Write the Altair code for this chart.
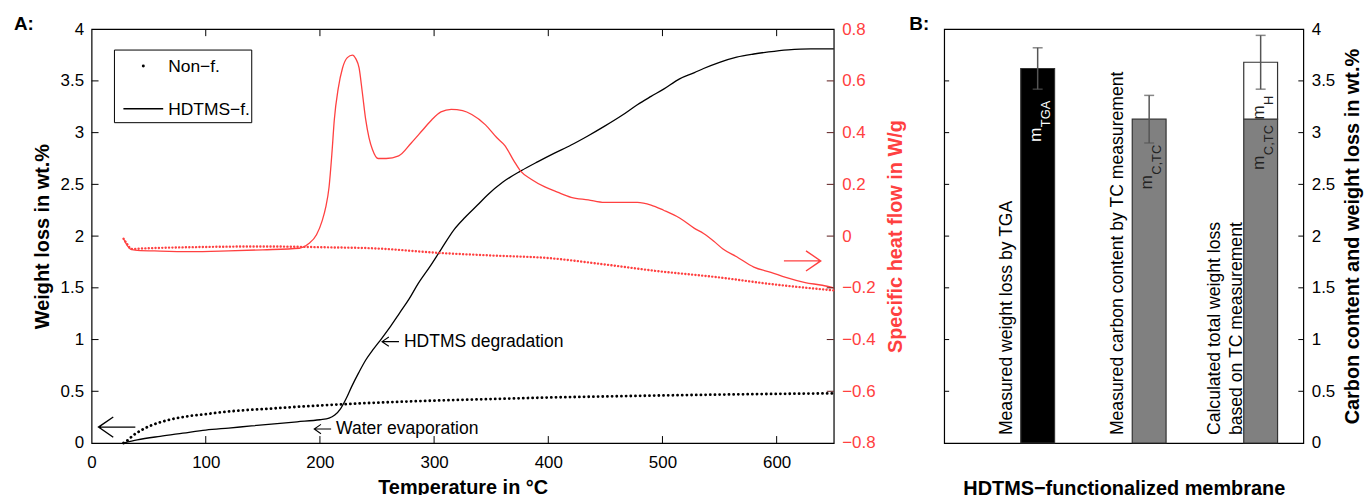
import altair as alt
import pandas as pd

FONT = "Liberation Sans"
RED = "#ff4040"
TICKRED = "#5a1a1a"
ARROW_L = "M 0 0 L 2 0 M 0.8 -0.55 L 0 0 L 0.8 0.55"
ARROW_R = "M 0 0 L -2 0 M -0.8 -0.55 L 0 0 L -0.8 0.55"

# ---------------- Panel A data ----------------
# TGA weight loss (wt.%) of the HDTMS-functionalized membrane
hd_T = [28, 40, 60, 80, 100, 120, 140, 160, 180, 200, 208, 213, 218, 223, 228,
        234, 240, 247, 254, 262, 270, 278, 286, 296, 306, 318, 327, 338, 347, 360,
        376, 391, 405, 420, 435, 449, 465, 478, 490, 501, 515, 528, 536, 550, 565,
        580, 593, 610, 630, 650]
hd_w = [0, 0.03, 0.065, 0.095, 0.125, 0.145, 0.165, 0.185, 0.205, 0.225, 0.24, 0.27, 0.33, 0.43, 0.55,
        0.68, 0.80, 0.91, 1.01, 1.13, 1.26, 1.39, 1.54, 1.70, 1.87, 2.07, 2.18, 2.30, 2.40, 2.52,
        2.63, 2.72, 2.80, 2.88, 2.97, 3.06, 3.17, 3.27, 3.35, 3.42, 3.52, 3.58, 3.62, 3.68, 3.73,
        3.76, 3.78, 3.80, 3.81, 3.81]
# TGA weight loss (wt.%) of the non-functionalized membrane
nf_T = [28, 32, 36, 43, 51, 60, 70, 85, 100, 125, 153, 180, 211, 250, 300, 350, 400, 450, 500, 550, 600, 650]
nf_w = [0, 0.03, 0.07, 0.12, 0.165, 0.2, 0.23, 0.26, 0.28, 0.31, 0.33, 0.35, 0.37, 0.39, 0.41, 0.425,
        0.44, 0.45, 0.46, 0.468, 0.475, 0.48]
# DSC specific heat flow (W/g), HDTMS-functionalized
hd_dsc_T = [28, 31, 34, 40, 60, 86, 120, 150, 182, 190, 197, 202, 205, 208, 210.5, 212.6, 216, 219.8,
            224, 228.5, 231.5, 234.3, 237, 240.1, 243, 246, 251, 258, 269, 280, 290, 298, 306, 315,
            325, 333, 345, 355, 362, 370, 376, 385, 397, 408, 420, 435, 449, 465, 478, 490, 501, 515,
            528, 536, 545, 553, 565, 580, 595, 608, 625, 640, 650]
hd_dsc_h = [-0.01, -0.035, -0.05, -0.055, -0.058, -0.06, -0.057, -0.053, -0.047, -0.03, 0.005, 0.06,
            0.11, 0.19, 0.32, 0.45, 0.57, 0.65, 0.69, 0.70, 0.685, 0.65, 0.56, 0.45, 0.38, 0.335, 0.30,
            0.30, 0.31, 0.36, 0.41, 0.45, 0.48, 0.49, 0.485, 0.47, 0.43, 0.38, 0.35, 0.29, 0.25, 0.22,
            0.19, 0.17, 0.15, 0.14, 0.13, 0.13, 0.13, 0.12, 0.10, 0.07, 0.03, 0.01, -0.02, -0.05, -0.08,
            -0.12, -0.14, -0.16, -0.18, -0.19, -0.20]
# DSC specific heat flow (W/g), non-functionalized
nf_dsc_T = [28, 31, 35, 45, 100, 150, 200, 250, 304, 350, 400, 450, 495, 550, 594, 650]
nf_dsc_h = [-0.01, -0.03, -0.05, -0.048, -0.042, -0.04, -0.043, -0.048, -0.065, -0.075, -0.085,
            -0.11, -0.135, -0.16, -0.185, -0.21]

x_labels = [0, 100, 200, 300, 400, 500, 600]
x_inner = [100, 200, 300, 400, 500, 600]
yl_labels = [0, 0.5, 1, 1.5, 2, 2.5, 3, 3.5, 4]
yl_inner = [0.5, 1, 1.5, 2, 2.5, 3, 3.5]
yr_labels = [-0.8, -0.6, -0.4, -0.2, 0, 0.2, 0.4, 0.6, 0.8]
yr_inner = [-0.6, -0.4, -0.2, 0, 0.2, 0.4, 0.6]

legend_labels = ["Non−f.", "HDTMS−f."]
annot_text = ["HDTMS degradation", "Water evaporation"]
annot_T = [254.4, 195]
annot_w = [0.98, 0.135]

# ---------------- Panel B data ----------------
bar_pos = [1, 2, 3]
bar_cat = ["Measured weight loss by TGA",
           "Measured carbon content by TC measurement",
           "Calculated total weight loss\nbased on TC measurement"]
seg_pos = [1, 2, 3, 3]
seg_lo = [0, 0, 0, 3.13]
seg_hi = [3.62, 3.13, 3.13, 3.68]
seg_fill = ["black", "#808080", "#808080", "white"]
err_mid = [3.62, 3.13, 3.68]
err_half = [0.20, 0.23, 0.26]
lab_pos = [1, 2, 3, 3]
lab_sub = ["TGA", "C,TC", "C,TC", "H"]
lab_at = [2.91, 2.45, 2.64, 3.125]
lab_color = ["white", "#222222", "#222222", "#222222"]
b_labels = [0, 0.5, 1, 1.5, 2, 2.5, 3, 3.5, 4]
b_inner = [0.5, 1, 1.5, 2, 2.5, 3, 3.5]

W1, W2, H = 746, 361, 416

# ---------------- Panel A ----------------
x_scale = alt.Scale(domain=[0, 650], nice=False, zero=False)
yl_scale = alt.Scale(domain=[0, 4], nice=False)
yr_scale = alt.Scale(domain=[-0.8, 0.8], nice=False)

x_axis = alt.Axis(values=x_labels, format="d", title="Temperature in °C", domain=False, ticks=False,
                  grid=False, labelFlush=False, labelOverlap=False, labelFont=FONT, labelFontSize=17,
                  labelColor="black", labelPadding=12, titleFont=FONT, titleFontSize=20,
                  titleFontWeight="bold", titleColor="black", titlePadding=7)
yl_axis = alt.Axis(orient="left", values=yl_labels, format="~g", title="Weight loss in wt.%",
                   domain=False, ticks=False, grid=False, labelFlush=False, labelOverlap=False,
                   labelFont=FONT, labelFontSize=17, labelColor="black", labelPadding=8,
                   titleFont=FONT, titleFontSize=20, titleFontWeight="bold", titleColor="black",
                   titleAngle=270, titleBaseline="bottom", titlePadding=8)
yr_axis = alt.Axis(orient="right", values=yr_labels, format="~g", title="Specific heat flow in W/g",
                   domain=False, ticks=False, grid=False, labelFlush=False, labelOverlap=False,
                   labelFont=FONT, labelFontSize=17, labelColor=RED, labelPadding=8,
                   titleFont=FONT, titleFontSize=20, titleFontWeight="bold", titleColor=RED,
                   titleAngle=270, titleBaseline="top", titlePadding=11)

X = alt.X("T:Q", scale=x_scale, axis=x_axis)
YL = alt.Y("w:Q", scale=yl_scale, axis=yl_axis)
YR = alt.Y("h:Q", scale=yr_scale, axis=yr_axis)

df_hd = pd.DataFrame({"T": hd_T, "w": hd_w})
df_nf = pd.DataFrame({"T": nf_T, "w": nf_w})
df_hd_dsc = pd.DataFrame({"T": hd_dsc_T, "h": hd_dsc_h})
df_nf_dsc = pd.DataFrame({"T": nf_dsc_T, "h": nf_dsc_h})
df_annot = pd.DataFrame({"T": annot_T, "w": annot_w, "t": annot_text})
one = pd.DataFrame({"k": [0]})

hd_line = alt.Chart(df_hd).mark_line(color="black", strokeWidth=1.3, interpolate="monotone").encode(x=X, y=YL)
nf_line = alt.Chart(df_nf).mark_line(color="black", strokeWidth=2.8, strokeDash=[0.1, 4.6],
                                     strokeCap="round", interpolate="monotone").encode(x=X, y=YL)

tick_l = alt.Chart(pd.DataFrame({"w": yl_inner})).mark_rule(color="black", strokeWidth=1).encode(
    y=YL, x=alt.value(0), x2=alt.value(7))
tick_b = alt.Chart(pd.DataFrame({"T": x_inner})).mark_rule(color="black", strokeWidth=1).encode(
    x=X, y=alt.value(H - 7), y2=alt.value(H))
tick_t = alt.Chart(pd.DataFrame({"T": x_inner})).mark_rule(color="black", strokeWidth=1).encode(
    x=X, y=alt.value(0), y2=alt.value(7))

annot = alt.Chart(df_annot).mark_text(
    align="left", baseline="middle", dx=22, font=FONT, fontSize=17.6, color="black").encode(
    x=X, y=YL, text="t:N")
annot_arrow = alt.Chart(df_annot).mark_point(
    shape=ARROW_L, filled=False, size=289, strokeWidth=1.1, color="black", opacity=1).encode(x=X, y=YL)
big_left = alt.Chart(pd.DataFrame({"T": [6.1], "w": [0.154]})).mark_point(
    shape=ARROW_L, filled=False, size=1369, strokeWidth=1.4, color="black", opacity=1).encode(x=X, y=YL)

leg_box = alt.Chart(one).mark_rect(fill="white", stroke="black", strokeWidth=1).encode(
    x=alt.value(23), x2=alt.value(161), y=alt.value(21), y2=alt.value(94))
leg_dot = alt.Chart(one).mark_point(filled=True, size=9, color="black", opacity=1).encode(
    x=alt.value(52), y=alt.value(37))
leg_line = alt.Chart(one).mark_rule(color="black", strokeWidth=1.3).encode(
    x=alt.value(32), x2=alt.value(72), y=alt.value(80))
leg_t1 = alt.Chart(pd.DataFrame({"t": [legend_labels[0]]})).mark_text(
    align="left", baseline="middle", font=FONT, fontSize=17.5, color="black").encode(
    x=alt.value(77), y=alt.value(38), text="t:N")
leg_t2 = alt.Chart(pd.DataFrame({"t": [legend_labels[1]]})).mark_text(
    align="left", baseline="middle", font=FONT, fontSize=17.5, color="black").encode(
    x=alt.value(77), y=alt.value(81), text="t:N")
lab_A = alt.Chart(pd.DataFrame({"t": ["A:"]})).mark_text(
    align="left", baseline="alphabetic", font=FONT, fontSize=19, fontWeight="bold", color="black").encode(
    x=alt.value(-78), y=alt.value(1), text="t:N")

grpA = alt.layer(hd_line, nf_line, tick_l, tick_b, tick_t, annot, annot_arrow, big_left,
                 leg_box, leg_dot, leg_line, leg_t1, leg_t2, lab_A)

hd_dsc_line = alt.Chart(df_hd_dsc).mark_line(color=RED, strokeWidth=1.3, interpolate="monotone").encode(x=X, y=YR)
nf_dsc_line = alt.Chart(df_nf_dsc).mark_line(color=RED, strokeWidth=2.4, strokeDash=[0.1, 3.3],
                                             strokeCap="round", interpolate="monotone").encode(x=X, y=YR)
tick_r = alt.Chart(pd.DataFrame({"h": yr_inner})).mark_rule(color=TICKRED, strokeWidth=1).encode(
    y=YR, x=alt.value(W1 - 7), x2=alt.value(W1))
red_arrow = alt.Chart(pd.DataFrame({"T": [638.6], "h": [-0.096]})).mark_point(
    shape=ARROW_R, filled=False, size=1369, strokeWidth=1.4, color=RED, opacity=1).encode(x=X, y=YR)

grpB = alt.layer(hd_dsc_line, nf_dsc_line, tick_r, red_arrow)

panelA = alt.layer(grpA, grpB).resolve_scale(y="independent").properties(width=W1, height=H)

# ---------------- Panel B ----------------
bx_scale = alt.Scale(domain=[0.206, 3.338], nice=False, zero=False)
by_scale = alt.Scale(domain=[0, 4], nice=False)
bx_axis = alt.Axis(labels=False, ticks=False, domain=False, grid=False,
                   title="HDTMS−functionalized membrane", titleFont=FONT, titleFontSize=20,
                   titleFontWeight="bold", titleColor="black", titlePadding=36)
by_axis = alt.Axis(orient="right", values=b_labels, format="~g",
                   title="Carbon content and weight loss in wt.%", domain=False, ticks=False,
                   grid=False, labelFlush=False, labelOverlap=False, labelFont=FONT, labelFontSize=17,
                   labelColor="black", labelPadding=8, titleFont=FONT, titleFontSize=20,
                   titleFontWeight="bold", titleColor="black", titleAngle=270, titleBaseline="top",
                   titlePadding=8)
BX = alt.X("pos:Q", scale=bx_scale, axis=bx_axis)

df_seg = pd.DataFrame({"pos": seg_pos, "lo": seg_lo, "hi": seg_hi, "fill": seg_fill})
df_err = pd.DataFrame({"pos": bar_pos, "mid": err_mid, "half": err_half})
df_err["lo"] = df_err["mid"] - df_err["half"]
df_err["hi"] = df_err["mid"] + df_err["half"]
df_cat = pd.DataFrame({"pos": bar_pos, "cat": bar_cat})
df_lab = pd.DataFrame({"pos": lab_pos, "at": lab_at, "sub": lab_sub, "col": lab_color})

bars = alt.Chart(df_seg).mark_bar(size=34, stroke="#333333", strokeWidth=1.2).encode(
    x=BX, y=alt.Y("lo:Q", scale=by_scale, axis=by_axis), y2="hi:Q",
    color=alt.Color("fill:N", scale=None))
err_rule = alt.Chart(df_err).mark_rule(color="#555555", strokeWidth=1.5).encode(
    x=BX, y=alt.Y("lo:Q", scale=by_scale, axis=by_axis), y2="hi:Q")
cap_lo = alt.Chart(df_err).mark_tick(orient="horizontal", size=10, thickness=1.5, color="#555555").encode(
    x=BX, y=alt.Y("lo:Q", scale=by_scale, axis=by_axis))
cap_hi = alt.Chart(df_err).mark_tick(orient="horizontal", size=10, thickness=1.5, color="#555555").encode(
    x=BX, y=alt.Y("hi:Q", scale=by_scale, axis=by_axis))
btick_l = alt.Chart(pd.DataFrame({"v": b_inner})).mark_rule(color="black", strokeWidth=1).encode(
    y=alt.Y("v:Q", scale=by_scale, axis=by_axis), x=alt.value(0), x2=alt.value(5))
btick_r = alt.Chart(pd.DataFrame({"v": b_inner})).mark_rule(color="black", strokeWidth=1).encode(
    y=alt.Y("v:Q", scale=by_scale, axis=by_axis), x=alt.value(W2 - 5), x2=alt.value(W2))
cat_text1 = alt.Chart(df_cat).transform_filter("datum.pos < 3").mark_text(
    angle=270, align="left", baseline="bottom", dy=-22, font=FONT, fontSize=17.7,
    color="black").encode(x=BX, y=alt.value(H - 8), text="cat:N")
cat_text2 = alt.Chart(df_cat).transform_filter("datum.pos == 3").mark_text(
    angle=270, align="left", baseline="bottom", dy=-37, font=FONT, fontSize=17.7, lineHeight=22,
    lineBreak="\n", color="black").encode(x=BX, y=alt.value(H - 8), text="cat:N")
m_text = alt.Chart(df_lab).mark_text(angle=270, align="left", baseline="alphabetic", dy=3,
                                     font=FONT, fontSize=17.5).encode(
    x=BX, y=alt.Y("at:Q", scale=by_scale, axis=by_axis), text=alt.value("m"),
    color=alt.Color("col:N", scale=None))
sub_text = alt.Chart(df_lab).mark_text(angle=270, align="left", baseline="alphabetic", dx=14.8, dy=12,
                                       font=FONT, fontSize=13).encode(
    x=BX, y=alt.Y("at:Q", scale=by_scale, axis=by_axis), text="sub:N",
    color=alt.Color("col:N", scale=None))
lab_B = alt.Chart(pd.DataFrame({"t": ["B:"]})).mark_text(
    align="left", baseline="alphabetic", font=FONT, fontSize=19, fontWeight="bold", color="black").encode(
    x=alt.value(-35), y=alt.value(1), text="t:N")

panelB = alt.layer(bars, err_rule, cap_lo, cap_hi, btick_l, btick_r, cat_text1, cat_text2, m_text,
                   sub_text, lab_B).properties(width=W2, height=H)

chart = alt.hconcat(panelA, panelB, spacing=111, bounds="flush").properties(
    padding={"left": 5, "top": 5, "right": 0, "bottom": 0},
    background="white",
).configure_view(stroke="black", strokeWidth=1.2)

chart.save("out.html", embed_options={"renderer": "svg", "actions": False})
